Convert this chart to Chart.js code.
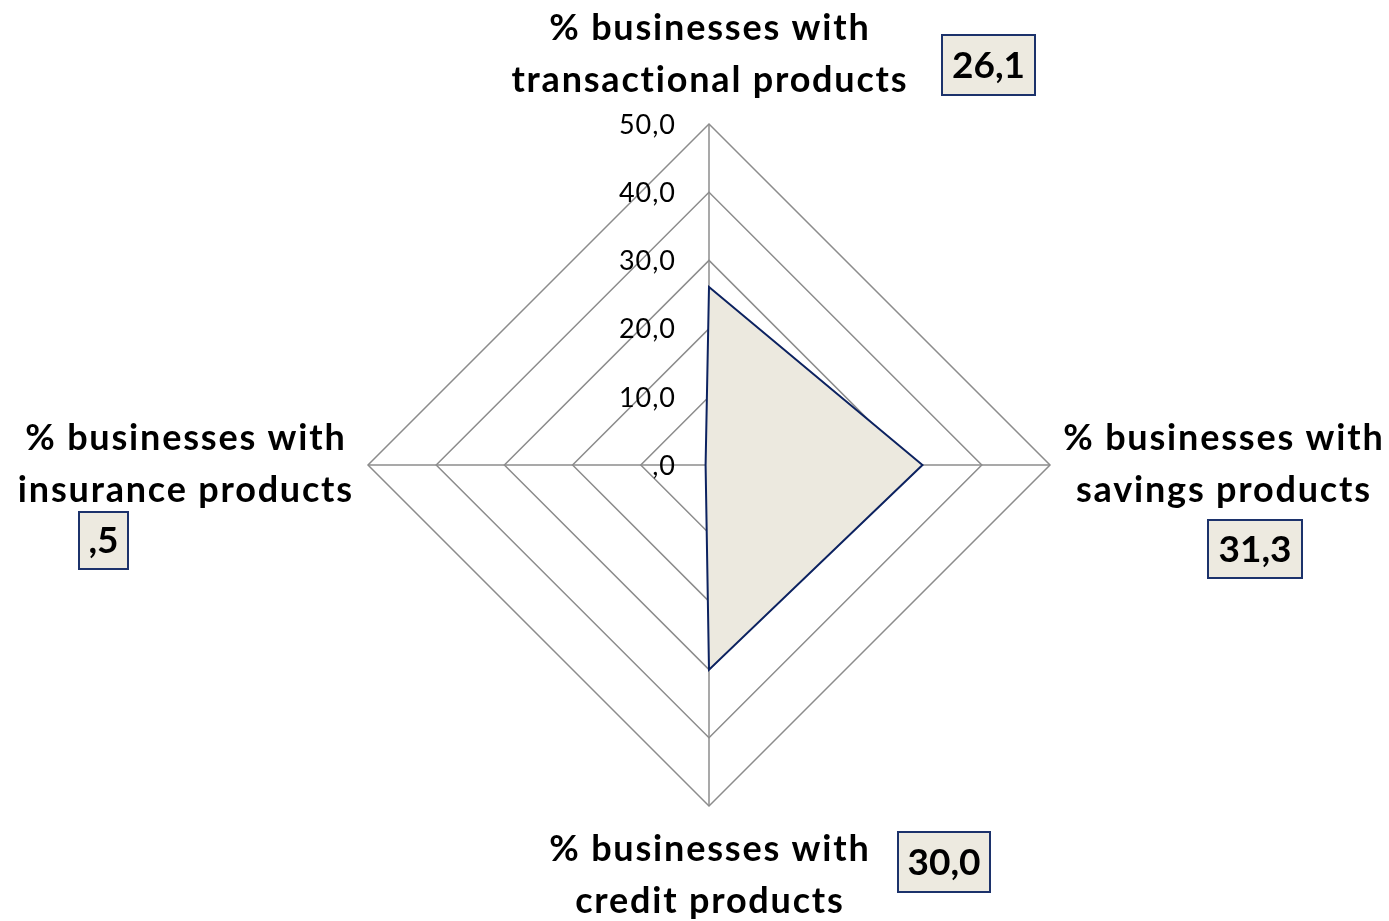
<!DOCTYPE html>
<html>
<head>
<meta charset="utf-8">
<script src="https://cdn.jsdelivr.net/npm/chart.js@4/dist/chart.umd.min.js"></script>
<style>
	html, body { margin: 0; padding: 0; background: #fff; }
	canvas { display: block; }
</style>
</head>
<body>
<canvas id="radar" width="1389" height="921"></canvas>
<script>
const categories = [
	["% businesses with", "transactional products"],
	["% businesses with", "savings products"],
	["% businesses with", "credit products"],
	["% businesses with", "insurance products"],
]
const shares = [26.1, 31.3, 30.0, 0.5]
const tickValues = [0, 10, 20, 30, 40, 50]

const FONT = "Lato, 'Open Sans', sans-serif"

// 26.1 -> "26,1", 0.5 -> ",5"
const formatNumber = v => v.toFixed(1).replace(".", ",").replace(/^0,/, ",")

// where each category label and its value box sit, relative to the centre
const labelSpots = [
	{ label: [0, -411], box: [233, -430, 93, 60] },
	{ label: [514, 0], box: [499, 55, 94, 58] },
	{ label: [0, 410], box: [189, 367, 92, 60] },
	{ label: [-524, 0], box: [-630, 47, 49, 57] },
]

// centred text with extra tracking, so the spacing stays symmetric
function spacedText(ctx, text, x, y, spacing) {
	ctx.letterSpacing = spacing + "px"
	ctx.fillText(text, x + spacing / 2, y)
	ctx.letterSpacing = "0px"
}

const decorations = {
	id: "decorations",
	afterDraw(chart) {
		const ctx = chart.ctx
		const scale = chart.scales.r
		const cx = scale.xCenter
		const cy = scale.yCenter
		ctx.save()

		// tick labels, to the left of the vertical axis
		ctx.font = "27px " + FONT
		ctx.fillStyle = "#000"
		ctx.textAlign = "right"
		ctx.textBaseline = "middle"
		tickValues.forEach(v => {
			const d = scale.getDistanceFromCenterForValue(v)
			ctx.letterSpacing = "1px"
			ctx.fillText(formatNumber(v), cx - 33, cy - d + 1)
			ctx.letterSpacing = "0px"
		})

		// category labels
		ctx.font = "bold 36px " + FONT
		ctx.textAlign = "center"
		categories.forEach((lines, i) => {
			const [dx, dy] = labelSpots[i].label
			const baseY = i == 1 || i == 3 ? cy - 27 : cy + dy - 26
			lines.forEach((line, k) => {
				spacedText(ctx, line, cx + dx, baseY + k * 52, 1.8)
			})
		})

		// value boxes
		shares.forEach((v, i) => {
			const [bx, by, bw, bh] = labelSpots[i].box
			const x = cx + bx
			const y = cy + by
			ctx.fillStyle = "#edeae0"
			ctx.fillRect(x, y, bw, bh)
			ctx.strokeStyle = "#1c326b"
			ctx.lineWidth = 2
			ctx.strokeRect(x, y, bw, bh)
			ctx.fillStyle = "#000"
			ctx.font = "bold 37px " + FONT
			ctx.fillText(formatNumber(v), x + bw / 2, y + bh / 2 + 1)
		})
		ctx.restore()
	},
}

new Chart(document.getElementById("radar"), {
	type: "radar",
	data: {
		labels: categories,
		datasets: [{
			data: shares,
			backgroundColor: "#ece9df",
			borderColor: "#0c2260",
			borderWidth: 2,
			pointRadius: 0,
			fill: true,
		}],
	},
	options: {
		responsive: false,
		animation: false,
		layout: {
			padding: { left: 368, right: 339, top: 124, bottom: 115 },
		},
		plugins: {
			legend: { display: false },
			tooltip: { enabled: false },
		},
		scales: {
			r: {
				min: 0,
				max: 50,
				ticks: { display: false, stepSize: 10 },
				pointLabels: { display: false },
				grid: { color: "#8c8c8c", lineWidth: 1.5 },
				angleLines: { color: "#8c8c8c", lineWidth: 1.5 },
			},
		},
	},
	plugins: [decorations],
})
</script>
</body>
</html>
